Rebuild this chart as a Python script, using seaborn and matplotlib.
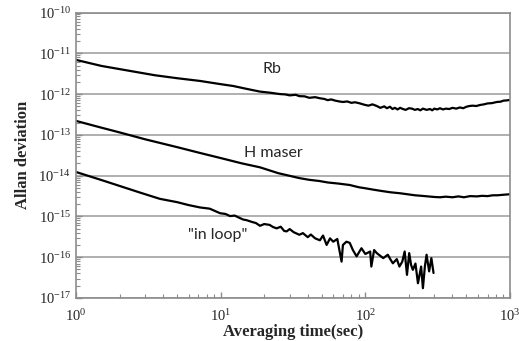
import numpy as np
import pandas as pd
import matplotlib
matplotlib.use("Agg")
import matplotlib.pyplot as plt
from matplotlib.ticker import LogLocator, NullFormatter
import seaborn as sns

# Allan deviation curves
rb_tau = [1, 1.5, 2.36, 3.5, 5, 7.2, 10, 12.2, 15, 18.7, 22, 25.7, 28, 30, 33, 35, 38,
          41, 45, 48.5, 52, 55, 58, 62, 66, 70, 75, 80, 85, 91.8, 98, 105, 112, 120,
          127, 135, 141, 148, 154, 160, 167, 174, 182, 190, 200, 210, 220, 230, 240,
          250, 265, 280, 290, 300, 314, 328, 344, 360, 380, 400, 425, 450, 475, 500,
          525, 550, 585, 620, 660, 700, 750, 810, 860, 900, 950, 1000]
rb_sigma = [6.9e-12, 4.9e-12, 3.7e-12, 2.9e-12, 2.45e-12, 2.1e-12, 1.75e-12, 1.58e-12,
            1.35e-12, 1.15e-12, 1.08e-12, 1.0e-12, 9.8e-13, 9.3e-13, 9.6e-13, 8.9e-13,
            8.8e-13, 8.1e-13, 8.4e-13, 7.9e-13, 7.6e-13, 7.1e-13, 7.4e-13, 6.9e-13,
            6.6e-13, 6.4e-13, 6.6e-13, 6.1e-13, 6.3e-13, 5.9e-13, 5.5e-13, 5.2e-13,
            5.6e-13, 5.1e-13, 4.6e-13, 5.0e-13, 4.5e-13, 4.9e-13, 4.3e-13, 4.6e-13,
            4.2e-13, 4.6e-13, 4.3e-13, 4.1e-13, 4.5e-13, 4.4e-13, 4.1e-13, 4.3e-13,
            4.0e-13, 4.4e-13, 4.1e-13, 4.3e-13, 4.0e-13, 4.4e-13, 4.2e-13, 4.5e-13,
            4.2e-13, 4.4e-13, 4.3e-13, 4.6e-13, 4.4e-13, 4.7e-13, 4.5e-13, 4.9e-13,
            5.1e-13, 5.2e-13, 5.1e-13, 5.4e-13, 5.6e-13, 5.9e-13, 6.0e-13, 6.4e-13,
            6.5e-13, 6.9e-13, 7.0e-13, 7.2e-13]

hm_tau = [1, 1.5, 2, 3, 5, 7.2, 10, 14, 18.7, 25, 30, 35, 41, 48, 55, 65, 78, 90, 100,
          115, 130, 150, 174, 195, 220, 245, 270, 300, 328, 360, 400, 440, 480, 530,
          590, 640, 700, 760, 820, 900, 1000]
hm_sigma = [2.2e-13, 1.5e-13, 1.15e-13, 7.8e-14, 5.0e-14, 3.6e-14, 2.7e-14, 2.0e-14,
            1.6e-14, 1.15e-14, 9.9e-15, 8.7e-15, 7.9e-15, 7.4e-15, 6.8e-15, 6.4e-15,
            5.9e-15, 5.2e-15, 4.9e-15, 4.5e-15, 4.2e-15, 3.9e-15, 3.7e-15, 3.5e-15,
            3.3e-15, 3.2e-15, 3.1e-15, 3.0e-15, 2.95e-15, 3.05e-15, 2.95e-15, 3.1e-15,
            2.95e-15, 3.15e-15, 3.1e-15, 3.2e-15, 3.15e-15, 3.3e-15, 3.3e-15, 3.4e-15,
            3.5e-15]

il_tau = [1, 1.5, 2, 2.8, 3.8, 5, 6, 7.2, 8.4, 9.9, 10.8, 11.6, 12.5, 13.6, 14.3, 15.1,
          16.5, 17.5, 18.7, 20, 21.8, 23, 24.4, 26, 27.5, 28.6, 30, 32, 35, 37, 40,
          42, 45, 48.5, 51, 54, 57, 60, 64, 68.5, 70, 74, 78, 82, 87, 94, 100, 108,
          110, 115, 120, 126, 133, 143, 150, 155, 165, 172, 180, 187, 194, 201, 207,
          213, 222, 231, 243, 250, 258, 265, 276, 286, 296]
il_sigma = [1.23e-14, 7.8e-15, 5.6e-15, 3.8e-15, 2.7e-15, 2.24e-15, 1.9e-15, 1.66e-15,
            1.55e-15, 1.2e-15, 1.15e-15, 1.02e-15, 1.05e-15, 9.1e-16, 8.4e-16, 8.1e-16,
            7.3e-16, 6.9e-16, 5.9e-16, 6.5e-16, 6.2e-16, 5.5e-16, 5.1e-16, 5.6e-16,
            4.4e-16, 4.3e-16, 4.9e-16, 4.1e-16, 3.55e-16, 3.9e-16, 3.1e-16, 3.6e-16,
            2.9e-16, 2.6e-16, 3.4e-16, 2.0e-16, 2.9e-16, 2.4e-16, 2.8e-16, 7.8e-17,
            2.0e-16, 2.4e-16, 2.25e-16, 1.5e-16, 1.05e-16, 1.66e-16, 1.2e-16, 1.38e-16,
            5.9e-17, 1.5e-16, 1.26e-16, 1.1e-16, 9.5e-17, 1.15e-16, 8.5e-17, 7.1e-17,
            9.0e-17, 5.9e-17, 7.8e-17, 1.38e-16, 3.7e-17, 1.26e-16, 6.5e-17, 4.9e-17,
            7.0e-17, 2.3e-17, 5.9e-17, 1.74e-17, 6.0e-17, 1.15e-16, 4.5e-17, 9.5e-17,
            4.1e-17]

df = pd.concat([
    pd.DataFrame({"tau": rb_tau, "sigma": rb_sigma, "clock": "Rb"}),
    pd.DataFrame({"tau": hm_tau, "sigma": hm_sigma, "clock": "H maser"}),
    pd.DataFrame({"tau": il_tau, "sigma": il_sigma, "clock": "in loop"}),
])

sns.set_style("white")
plt.rcParams["mathtext.fontset"] = "stix"
plt.rcParams["font.family"] = ["Liberation Serif", "DejaVu Serif"]

fig = plt.figure(figsize=(5.19, 3.41), dpi=100)
ax = fig.add_axes([0.1464, 0.1261, 0.8363, 0.8372])

sns.lineplot(data=df, x="tau", y="sigma", hue="clock", units="clock", estimator=None,
             palette={"Rb": "black", "H maser": "black", "in loop": "black"},
             linewidth=1.6, legend=False, ax=ax)

ax.set_xscale("log")
ax.set_yscale("log")
ax.set_xlim(1, 1000)
ax.set_ylim(1e-17, 1e-10)
ax.set_yticks([10.0 ** k for k in range(-17, -9)])
ax.set_xticks([1, 10, 100, 1000])
ax.set_xticklabels([r"$\mathregular{10^{%d}}$" % k for k in range(0, 4)])
ax.set_yticklabels([r"$\mathregular{10^{%d}}$" % k for k in range(-17, -9)])
ax.yaxis.set_minor_locator(LogLocator(base=10, subs=range(2, 10), numticks=100))
ax.xaxis.set_minor_locator(LogLocator(base=10, subs=range(2, 10), numticks=100))
ax.yaxis.set_minor_formatter(NullFormatter())
ax.xaxis.set_minor_formatter(NullFormatter())

ax.grid(True, which="major", axis="y", color="#9a9a9a", linewidth=1.1)
ax.grid(False, axis="x")
for s in ax.spines.values():
    s.set_color("#8c8c8c")
    s.set_linewidth(1.2)

ax.tick_params(which="both", direction="in", color="#8c8c8c", labelsize=10.5,
               bottom=True, left=True)
ax.tick_params(which="major", length=4, width=1)
ax.tick_params(which="minor", length=3, width=0.8)
ax.tick_params(axis="x", pad=7)

ax.set_xlabel("Averaging time(sec)", fontsize=12, fontweight="bold", labelpad=0)
ax.set_ylabel("Allan deviation", fontsize=12, fontweight="bold", labelpad=5)

ax.text(22.5, 4.1e-12, "Rb", family="Lato", fontsize=11.5, ha="center", va="center")
ax.text(23, 3.6e-14, "H maser", family="Lato", fontsize=11.5, ha="center", va="center")
ax.text(9.5, 3.5e-16, '"in loop"', family="Lato", fontsize=11.5, ha="center", va="center")

fig.savefig("out.png", dpi=100)
